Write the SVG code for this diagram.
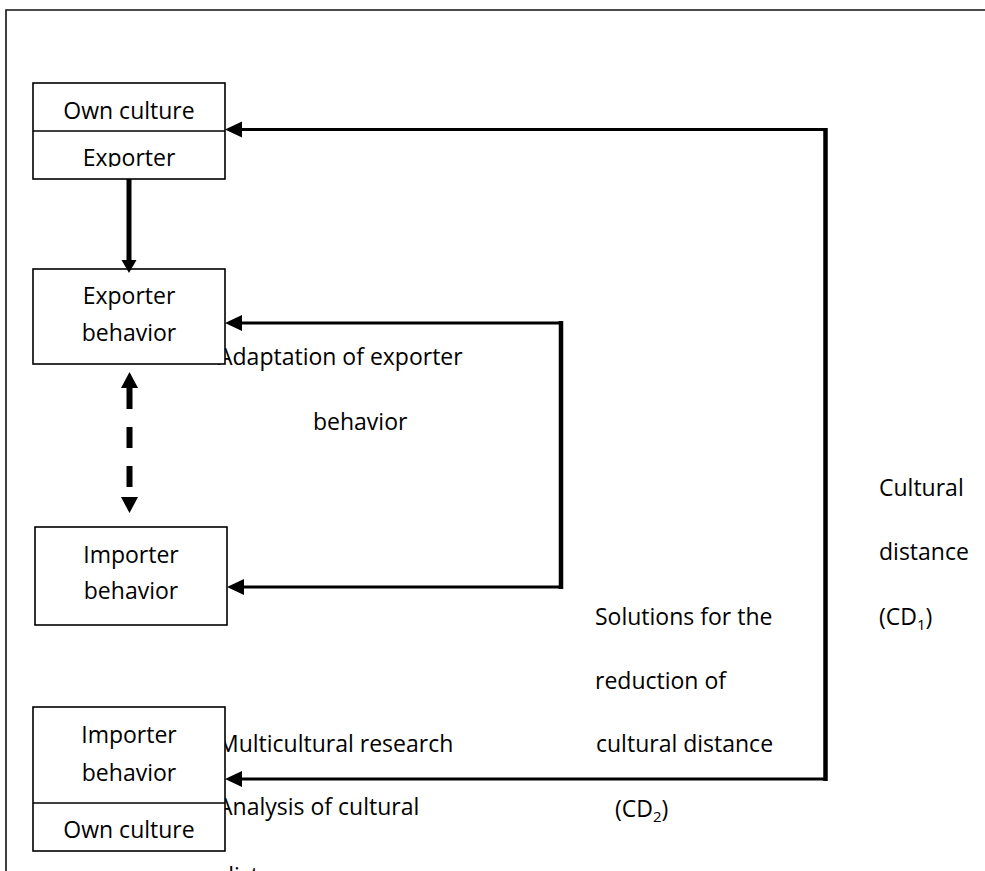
<svg xmlns="http://www.w3.org/2000/svg" width="985" height="871" viewBox="0 0 985 871">
<style>
text{font-family:"Open Sans","Liberation Sans",sans-serif;font-size:23px;fill:#000}
.c{text-anchor:middle}
.box{fill:#fff;stroke:#000;stroke-width:1.6}
.h{fill:none;stroke:#000;stroke-width:3.2}
.v{fill:none;stroke:#000;stroke-width:4.5}
.head{fill:#000}
.frame{fill:none;stroke:#111;stroke-width:1.6}
</style>
<defs>
<clipPath id="clip1"><rect x="33" y="131" width="192" height="36"/></clipPath>
</defs>
<rect width="985" height="871" fill="#fff"/>
<path class="frame" d="M6,871 V10 H985"/>
<g id="labels">
<text x="218" y="365">Adaptation of exporter</text>
<text x="313" y="430">behavior</text>
<text x="879" y="496">Cultural</text>
<text x="879" y="560">distance</text>
<text x="879" y="625">(CD<tspan font-size="15" dy="5">1</tspan><tspan dy="-5">)</tspan></text>
<text x="595" y="625">Solutions for the</text>
<text x="595" y="689">reduction of</text>
<text x="596" y="752">cultural distance</text>
<text x="615" y="817">(CD<tspan font-size="15" dy="5">2</tspan><tspan dy="-5">)</tspan></text>
<text x="218" y="752">Multicultural research</text>
<text x="218" y="815">Analysis of cultural</text>
<text x="220" y="884">distance</text>
</g>
<g id="node-exporter-culture">
<rect class="box" x="33" y="83" width="192" height="96"/>
<line x1="33" y1="131" x2="225" y2="131" stroke="#000" stroke-width="1.6"/>
<text class="c" x="129" y="119">Own culture</text>
<text class="c" x="129" y="166" clip-path="url(#clip1)">Exporter</text>
</g>
<g id="node-exporter-behavior">
<rect class="box" x="33" y="269" width="192" height="95"/>
<text class="c" x="129" y="304">Exporter</text>
<text class="c" x="129" y="341">behavior</text>
</g>
<g id="node-importer-behavior">
<rect class="box" x="35" y="527" width="192" height="98"/>
<text class="c" x="131" y="563">Importer</text>
<text class="c" x="131" y="599">behavior</text>
</g>
<g id="node-importer-culture">
<rect class="box" x="33" y="707" width="192" height="144"/>
<line x1="33" y1="803" x2="225" y2="803" stroke="#000" stroke-width="1.6"/>
<text class="c" x="129" y="743">Importer</text>
<text class="c" x="129" y="781">behavior</text>
<text class="c" x="129" y="838">Own culture</text>
</g>
<g id="connectors">
<line x1="129" y1="179" x2="129" y2="261" stroke="#000" stroke-width="5"/>
<polygon class="head" points="121.5,260 136.5,260 129,273"/>
<polygon class="head" points="121,388 138,388 129.5,372"/>
<line x1="129.5" y1="388" x2="129.5" y2="497" stroke="#000" stroke-width="6" stroke-dasharray="21 18"/>
<polygon class="head" points="121,497 138,497 129.5,513"/>
<path class="h" d="M241,323 H561"/>
<path class="v" d="M561,321 V589"/>
<path class="h" d="M563,587 H243"/>
<polygon class="head" points="225,323 242,315 242,331"/>
<polygon class="head" points="227,587 244,579 244,595"/>
<path class="h" d="M241,129.5 H825"/>
<path class="v" d="M825.5,128 V781"/>
<path class="h" d="M827,779 H241"/>
<polygon class="head" points="225,129.5 242,121.5 242,137.5"/>
<polygon class="head" points="225,779 242,771 242,787"/>
</g>
</svg>
